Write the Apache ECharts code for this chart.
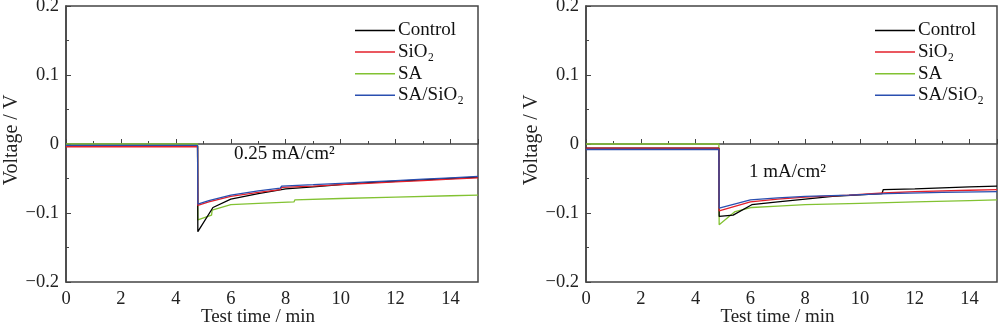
<!DOCTYPE html>
<html><head><meta charset="utf-8">
<script src="https://cdn.jsdelivr.net/npm/echarts@6/dist/echarts.min.js"></script>
<style>html,body{margin:0;padding:0;background:#fff}#c{width:1000px;height:326px}</style>
</head><body><div id="c"></div>
<script>
// Data: [time (min), voltage (V)]
const seriesNames = ['Control', 'SiO₂', 'SA', 'SA/SiO₂'];
const colors = ['#000000', '#e3202b', '#82c232', '#2a4fb0'];
const xTicks = [0, 2, 4, 6, 8, 10, 12, 14];
const yTicks = [-0.2, -0.1, 0, 0.1, 0.2];
const panelLabels = ['0.25 mA/cm²', '1 mA/cm²'];

// 0.25 mA/cm2
const lowControl = [[0,-0.003],[4.79,-0.003],[4.8,-0.127],[5.35,-0.092],[6.0,-0.080],[7,-0.072],[8,-0.065],[9,-0.062],[10,-0.059],[11,-0.056],[12,-0.054],[13,-0.052],[14,-0.050],[15,-0.048]];
const lowSiO2 = [[0,-0.004],[4.79,-0.004],[4.8,-0.089],[5.2,-0.084],[6,-0.076],[7,-0.070],[7.8,-0.066],[7.85,-0.063],[9,-0.061],[10,-0.059],[11,-0.057],[12,-0.055],[13,-0.053],[14,-0.051],[15,-0.049]];
const lowSA = [[0,0],[4.79,0],[4.8,-0.110],[5.3,-0.103],[5.32,-0.096],[6,-0.088],[7,-0.086],[8.3,-0.084],[8.33,-0.081],[10,-0.079],[12,-0.077],[14,-0.075],[15,-0.074]];
const lowSASiO2 = [[0,-0.002],[4.79,-0.002],[4.8,-0.087],[5.2,-0.082],[6,-0.074],[7,-0.068],[7.8,-0.064],[7.85,-0.061],[9,-0.059],[10,-0.057],[11,-0.055],[12,-0.053],[13,-0.051],[14,-0.049],[15,-0.047]];

// 1 mA/cm2
const highControl = [[0,-0.006],[4.85,-0.006],[4.86,-0.105],[5.37,-0.103],[6.05,-0.088],[7,-0.084],[8,-0.080],[9,-0.076],[10.8,-0.072],[10.85,-0.066],[12,-0.065],[14,-0.062],[15,-0.061]];
const highSiO2 = [[0,-0.006],[4.85,-0.006],[4.86,-0.097],[6,-0.084],[7,-0.080],[8,-0.077],[9.6,-0.074],[10.85,-0.071],[12,-0.069],[14,-0.067],[15,-0.066]];
const highSA = [[0,0],[4.85,0],[4.86,-0.117],[5.44,-0.098],[6.05,-0.092],[7,-0.090],[8,-0.088],[10,-0.086],[12,-0.084],[14,-0.082],[15,-0.081]];
const highSASiO2 = [[0,-0.008],[4.85,-0.008],[4.86,-0.093],[6,-0.081],[7,-0.078],[8,-0.076],[9.6,-0.074],[11,-0.072],[13,-0.070],[15,-0.069]];

const panels = [
  [lowControl, lowSiO2, lowSA, lowSASiO2],
  [highControl, highSiO2, highSA, highSASiO2]
];

const font = '"Liberation Serif", "Times New Roman", serif';
const axisColor = '#444';
const fmtNum = v => String(Math.round(v * 10) / 10).replace('-', '−');

const grids = [
  {left: 66, right: 522, top: 6, bottom: 44},
  {left: 586, right: 3, top: 6, bottom: 44}
];

const xAxes = grids.map((g, i) => ({
  gridIndex: i, type: 'value', min: 0, max: 15, interval: 2,
  name: 'Test time / min', nameLocation: 'middle', nameGap: 26, nameMoveOverlap: false,
  nameTextStyle: {fontFamily: font, fontSize: 19, color: '#222', padding: [0, 28, 0, 0]},
  axisLine: {lineStyle: {color: axisColor, width: 1.5}},
  axisTick: {inside: true, length: 5, lineStyle: {color: axisColor}},
  minorTick: {show: true, splitNumber: 2, length: 3, lineStyle: {color: axisColor}},
  splitLine: {show: false},
  axisLabel: {fontFamily: font, fontSize: 18.5, color: '#222', margin: 8,
    formatter: v => xTicks.includes(v) ? String(v) : ''}
}));

const yAxes = grids.map((g, i) => ({
  gridIndex: i, type: 'value', min: -0.2, max: 0.2, interval: 0.1,
  name: 'Voltage / V', nameLocation: 'middle', nameGap: 44, nameMoveOverlap: false,
  nameTextStyle: {fontFamily: font, fontSize: 20, color: '#222', padding: [0, 0, 0, 8]},
  axisLine: {show: true, lineStyle: {color: axisColor, width: 1.5}},
  axisTick: {inside: true, length: 5, lineStyle: {color: axisColor}},
  minorTick: {show: true, splitNumber: 2, length: 3, lineStyle: {color: axisColor}},
  splitLine: {show: false},
  axisLabel: {fontFamily: font, fontSize: 18.5, color: '#222', margin: 7,
    formatter: v => yTicks.some(t => Math.abs(t - v) < 1e-9) ? fmtNum(v) : ''}
}));

const series = [];
panels.forEach((p, pi) => {
  p.forEach((d, si) => {
    series.push({
      type: 'line', name: seriesNames[si], xAxisIndex: pi, yAxisIndex: pi,
      data: d, symbol: 'none', color: colors[si],
      itemStyle: {color: colors[si]},
      lineStyle: {width: 1.3, color: colors[si]}, z: si === 2 ? 1 : 2,
      animation: false
    });
  });
});

const legendBase = {
  orient: 'vertical', top: 16, itemWidth: 40, itemHeight: 1.5, itemGap: 2.6,
  icon: 'rect',
  textStyle: {fontFamily: font, fontSize: 19, lineHeight: 19, color: '#111', padding: [0,0,0,-2]},
  data: seriesNames
};

const option = {
  backgroundColor: '#fff',
  animation: false,
  grid: grids.map(g => Object.assign({show: true, borderColor: axisColor, borderWidth: 1.5, backgroundColor: 'transparent', containLabel: false, outerBoundsMode: 'none'}, g)),
  xAxis: xAxes,
  yAxis: yAxes,
  legend: [
    Object.assign({left: 350}, legendBase),
    Object.assign({left: 870}, legendBase)
  ],
  title: [
    {text: panelLabels[0], left: 229, top: 140, textStyle: {fontFamily: font, fontSize: 19, fontWeight: 'normal', color: '#111'}},
    {text: panelLabels[1], left: 744, top: 158, textStyle: {fontFamily: font, fontSize: 19, fontWeight: 'normal', color: '#111'}}
  ],
  series: series
};

const chart = echarts.init(document.getElementById('c'), null, {renderer: 'canvas'});
chart.setOption(option);
</script>
</body></html>
